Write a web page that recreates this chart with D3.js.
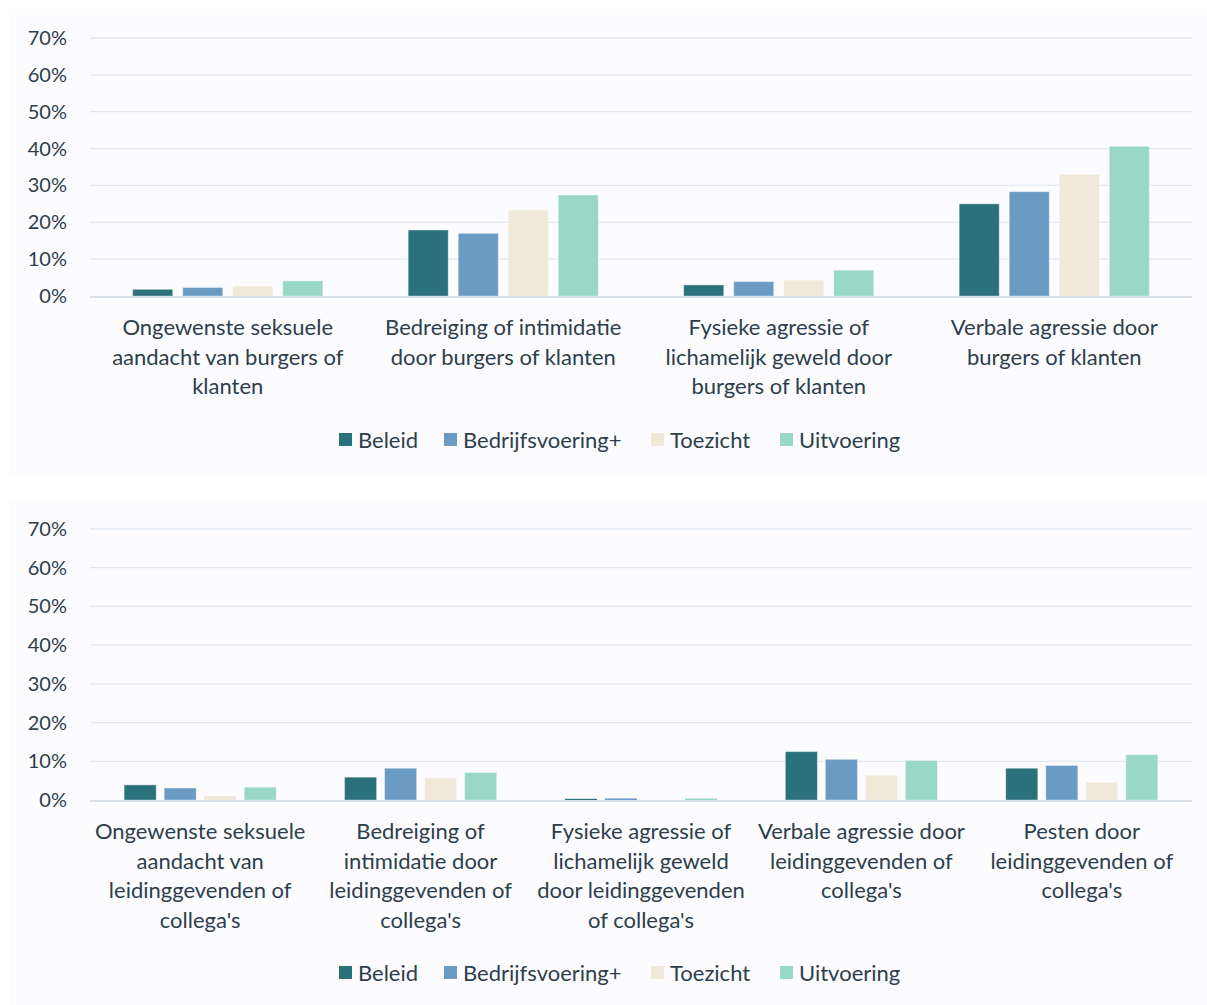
<!DOCTYPE html>
<html><head><meta charset="utf-8">
<script src="https://cdn.jsdelivr.net/npm/d3@7"></script>
<style>
body{margin:0;background:#fff;}
text{font-family:Lato,"Open Sans",sans-serif;fill:#2d3e4c;}
</style></head><body>
<svg id="c" width="1207" height="1005"></svg>
<script>
const series = ["Beleid","Bedrijfsvoering+","Toezicht","Uitvoering"];
const colors = ["#2b717c","#6b9ac3","#f0e9da","#98d8c4"];
const yTicks = [0,10,20,30,40,50,60,70];

const topCategories = [
  "Ongewenste seksuele|aandacht van burgers of|klanten",
  "Bedreiging of intimidatie|door burgers of klanten",
  "Fysieke agressie of|lichamelijk geweld door|burgers of klanten",
  "Verbale agressie door|burgers of klanten"
];
const topBeleid = [1.8, 17.9, 3.0, 25.0];
const topBedrijf = [2.3, 17.0, 3.9, 28.3];
const topToezicht = [2.7, 23.3, 4.3, 33.0];
const topUitvoering = [4.1, 27.4, 7.0, 40.6];

const botCategories = [
  "Ongewenste seksuele|aandacht van|leidinggevenden of|collega's",
  "Bedreiging of|intimidatie door|leidinggevenden of|collega's",
  "Fysieke agressie of|lichamelijk geweld|door leidinggevenden|of collega's",
  "Verbale agressie door|leidinggevenden of|collega's",
  "Pesten door|leidinggevenden of|collega's"
];
const botBeleid = [3.9, 5.9, 0.3, 12.5, 8.2];
const botBedrijf = [3.1, 8.2, 0.4, 10.5, 8.9];
const botToezicht = [1.0, 5.7, 0.0, 6.4, 4.6];
const botUitvoering = [3.3, 7.1, 0.4, 10.2, 11.7];

const svg = d3.select("#c");

function panel(cfg){
  const g = svg.append("g");
  g.append("rect").attr("x",9).attr("y",cfg.py0).attr("width",1198).attr("height",cfg.py1-cfg.py0).attr("fill","#fcfbfe");
  const y = d3.scaleLinear().domain([0,70]).range([cfg.y0,cfg.y70]);
  const x0 = d3.scaleBand().domain(cfg.cats).range([90,1192]).paddingInner(0.31).paddingOuter(0.155);
  const x1 = d3.scaleBand().domain(series).range([0,x0.bandwidth()]).paddingInner(0.2);
  g.selectAll(".grid").data(yTicks.filter(d=>d>0)).enter().append("line")
    .attr("x1",90).attr("x2",1192).attr("y1",d=>y(d)).attr("y2",d=>y(d))
    .attr("stroke","#e2e9f1").attr("stroke-width",1.3);
  g.selectAll(".yl").data(yTicks).enter().append("text")
    .attr("x",67).attr("y",d=>y(d)).attr("dy","0.35em").attr("text-anchor","end")
    .attr("font-size",20).text(d=>d+"%");
  const vals = cfg.vals;
  cfg.cats.forEach((c,i)=>{
    series.forEach((s,j)=>{
      const v = vals[j][i];
      if (v <= 0) return;
      g.append("rect").attr("x",x0(c)+x1(s)).attr("width",x1.bandwidth())
        .attr("y",y(v)).attr("height",y(0)-y(v))
        .attr("fill",colors[j]).attr("stroke", v>1?"rgba(255,255,255,0.35)":"none").attr("stroke-width",1);
    });
    const lines = c.split("|");
    const t = g.append("text").attr("text-anchor","middle").attr("font-size",22);
    lines.forEach((l,k)=>{
      t.append("tspan").attr("x",x0(c)+x0.bandwidth()/2).attr("y",cfg.labelY+k*29.5).text(l);
    });
  });
  g.append("line").attr("x1",90).attr("x2",1192).attr("y1",y(0)+1).attr("y2",y(0)+1)
    .attr("stroke","#d8e0e7").attr("stroke-width",2);
  const lx = [339,444,651,780];
  series.forEach((s,j)=>{
    g.append("rect").attr("x",lx[j]).attr("y",cfg.legY-7).attr("width",13).attr("height",13).attr("fill",colors[j]);
    g.append("text").attr("x",lx[j]+19).attr("y",cfg.legY).attr("dy","0.35em").attr("font-size",22).text(s);
  });
}

panel({py0:9,py1:477,y0:296,y70:38,cats:topCategories,
  vals:[topBeleid,topBedrijf,topToezicht,topUitvoering],labelY:335,legY:440});
panel({py0:498,py1:1005,y0:800,y70:529,cats:botCategories,
  vals:[botBeleid,botBedrijf,botToezicht,botUitvoering],labelY:839,legY:973});
</script></body></html>
